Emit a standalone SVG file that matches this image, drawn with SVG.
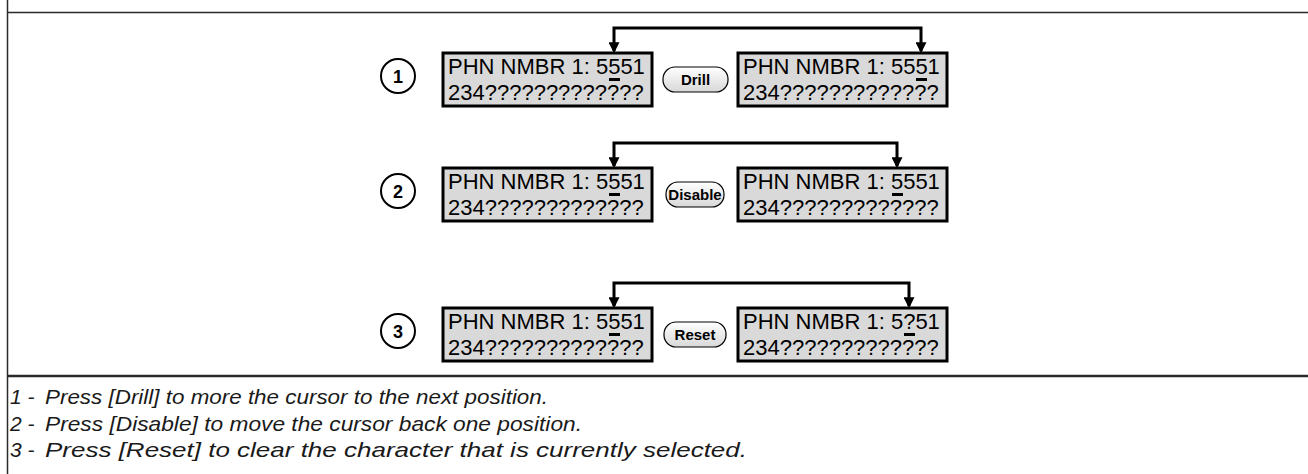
<svg xmlns="http://www.w3.org/2000/svg" width="1308" height="474" viewBox="0 0 1308 474">
<style>
.frame{stroke:#2a2a2a;fill:none}
.lcd{fill:#d9d9d9;stroke:#000;stroke-width:3}
.lcdt{font-family:"Liberation Sans",Arial,sans-serif;font-size:22px;fill:#000}
.cur{fill:#000}
.num{fill:#fff;stroke:#000;stroke-width:2}
.numt{font-family:"Liberation Sans",Arial,sans-serif;font-size:18px;font-weight:bold;fill:#000;text-anchor:middle}
.btn{fill:url(#bg);stroke:#000;stroke-width:1.2}
.btnt{font-family:"Liberation Sans",Arial,sans-serif;font-size:15px;font-weight:bold;fill:#000;text-anchor:middle}
.conn{fill:none;stroke:#000;stroke-width:3}
.note{font-family:"Liberation Sans",Arial,sans-serif;font-size:21px;font-style:italic;fill:#1a1a1a}
</style>
<defs>
<linearGradient id="bg" x1="0" y1="0" x2="0" y2="1">
<stop offset="0" stop-color="#ffffff"/>
<stop offset="1" stop-color="#d8d8d8"/>
</linearGradient>
<marker id="ah" viewBox="0 0 10 10" refX="8" refY="5" markerUnits="userSpaceOnUse" markerWidth="12" markerHeight="11" orient="auto-start-reverse">
<path d="M0,0 L10,5 L0,10 z" fill="#000"/>
</marker>
</defs>

<g id="frame">
<line class="frame" x1="7.5" y1="0" x2="7.5" y2="474" stroke-width="1.5"/>
<line class="frame" x1="7" y1="12.5" x2="1308" y2="12.5" stroke-width="1.5"/>
<line class="frame" x1="7" y1="376" x2="1308" y2="376" stroke-width="2.5"/>
</g>

<g id="connectors">
<path class="conn" d="M614,51 V28 H921 V51" marker-start="url(#ah)" marker-end="url(#ah)"/>
<path class="conn" d="M614,166 V143 H897 V166" marker-start="url(#ah)" marker-end="url(#ah)"/>
<path class="conn" d="M614,306 V283 H909 V306" marker-start="url(#ah)" marker-end="url(#ah)"/>
</g>

<!-- Row 1 -->
<g id="step1">
<circle class="num" cx="398" cy="76" r="17"/>
<text class="numt" x="398" y="82.5">1</text>
</g>
<g id="lcd1a">
<rect class="lcd" x="443" y="53" width="209" height="53"/>
<text class="lcdt" x="448" y="74">PHN NMBR 1: 5551</text>
<text class="lcdt" x="448" y="100">234?????????????</text>
<rect class="cur" x="609" y="78" width="11" height="3"/>
</g>
<g id="btn-drill">
<rect class="btn" x="663" y="67" width="65" height="25" rx="12"/>
<text class="btnt" x="695.5" y="85">Drill</text>
</g>
<g id="lcd1b">
<rect class="lcd" x="738" y="53" width="209" height="53"/>
<text class="lcdt" x="743" y="74">PHN NMBR 1: 5551</text>
<text class="lcdt" x="743" y="100">234?????????????</text>
<rect class="cur" x="916" y="78" width="11" height="3"/>
</g>

<!-- Row 2 -->
<g id="step2">
<circle class="num" cx="398" cy="191" r="17"/>
<text class="numt" x="398" y="197.5">2</text>
</g>
<g id="lcd2a">
<rect class="lcd" x="443" y="168" width="209" height="53"/>
<text class="lcdt" x="448" y="189">PHN NMBR 1: 5551</text>
<text class="lcdt" x="448" y="215">234?????????????</text>
<rect class="cur" x="609" y="193" width="11" height="3"/>
</g>
<g id="btn-disable">
<rect class="btn" x="666" y="182" width="58" height="25" rx="12"/>
<text class="btnt" x="695" y="200">Disable</text>
</g>
<g id="lcd2b">
<rect class="lcd" x="738" y="168" width="209" height="53"/>
<text class="lcdt" x="743" y="189">PHN NMBR 1: 5551</text>
<text class="lcdt" x="743" y="215">234?????????????</text>
<rect class="cur" x="892" y="193" width="11" height="3"/>
</g>

<!-- Row 3 -->
<g id="step3">
<circle class="num" cx="398" cy="331" r="17"/>
<text class="numt" x="398" y="337.5">3</text>
</g>
<g id="lcd3a">
<rect class="lcd" x="443" y="308" width="209" height="53"/>
<text class="lcdt" x="448" y="329">PHN NMBR 1: 5551</text>
<text class="lcdt" x="448" y="355">234?????????????</text>
<rect class="cur" x="609" y="333" width="11" height="3"/>
</g>
<g id="btn-reset">
<rect class="btn" x="664" y="322" width="62" height="25" rx="12"/>
<text class="btnt" x="695" y="340">Reset</text>
</g>
<g id="lcd3b">
<rect class="lcd" x="738" y="308" width="209" height="53"/>
<text class="lcdt" x="743" y="329">PHN NMBR 1: 5?51</text>
<text class="lcdt" x="743" y="355">234?????????????</text>
<rect class="cur" x="904" y="333" width="11" height="3"/>
</g>

<g id="notes">
<text class="note" x="10" y="404">1 -</text>
<text class="note" x="45" y="404" textLength="503" lengthAdjust="spacingAndGlyphs">Press [Drill] to more the cursor to the next position.</text>
<text class="note" x="10" y="430.5">2 -</text>
<text class="note" x="45" y="430.5" textLength="537" lengthAdjust="spacingAndGlyphs">Press [Disable] to move the cursor back one position.</text>
<text class="note" x="10" y="457">3 -</text>
<text class="note" x="45" y="457" textLength="702" lengthAdjust="spacingAndGlyphs">Press [Reset] to clear the character that is currently selected.</text>
</g>
</svg>
